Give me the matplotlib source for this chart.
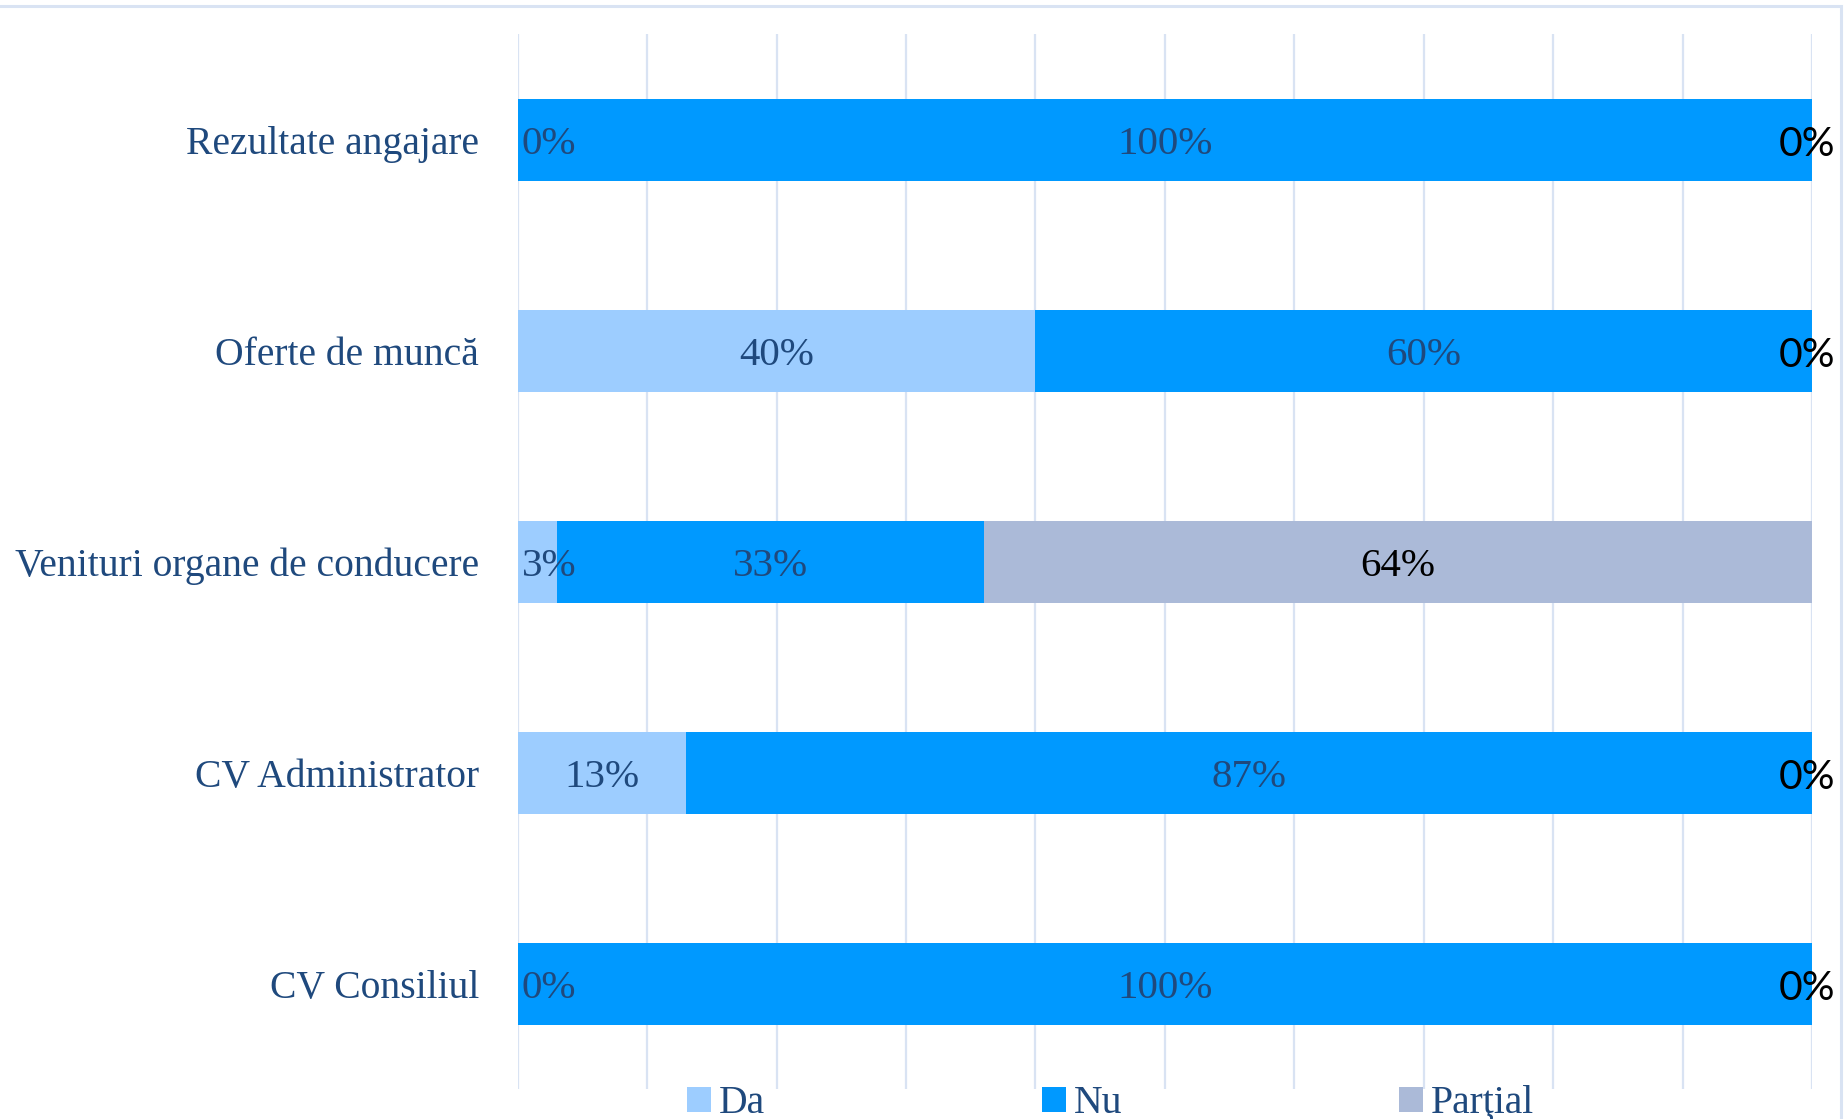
import matplotlib.pyplot as plt
from matplotlib.patches import Rectangle
import numpy as np

# categories, top to bottom
categories = [
    "Rezultate angajare",
    "Oferte de muncă",
    "Venituri organe de conducere",
    "CV Administrator",
    "CV Consiliul",
]
da = [0, 40, 3, 13, 0]
nu = [100, 60, 33, 87, 100]
partial = [0, 0, 64, 0, 0]
series_names = ["Da", "Nu", "Parţial"]

col_da = "#9DCDFF"
col_nu = "#0099FF"
col_partial = "#ABBAD8"
txt_blue = "#1F497D"
grid_col = "#D9E3F3"

serif = "Liberation Serif"
font_size = 28.5
lab_size = 29.5

fig = plt.figure(figsize=(18.45, 11.19), dpi=100)
ax = fig.add_axes([0.2806, 0.0264, 0.7015, 0.9428])

y = np.arange(len(categories))
h = 0.39
da = np.array(da)
nu = np.array(nu)
partial = np.array(partial)

ax.barh(y, da, height=h, color=col_da, label=series_names[0], zorder=2)
ax.barh(y, nu, left=da, height=h, color=col_nu, label=series_names[1], zorder=2)
ax.barh(y, partial, left=da + nu, height=h, color=col_partial,
        label=series_names[2], zorder=2)

# data labels (slightly below centre, like Excel)
dy = 0.022
for i in range(len(categories)):
    yy = y[i] + dy
    # Da
    if da[i] < 5:
        ax.text(0.3, yy, f"{da[i]}%", ha="left", va="center",
                color=txt_blue, fontsize=lab_size, family=serif, zorder=3)
    else:
        ax.text(da[i] / 2, yy, f"{da[i]}%", ha="center", va="center",
                color=txt_blue, fontsize=lab_size, family=serif, zorder=3)
    # Nu
    ax.text(da[i] + nu[i] / 2, yy, f"{nu[i]}%", ha="center", va="center",
            color=txt_blue, fontsize=lab_size, family=serif, zorder=3)
    # Partial
    if partial[i] == 0:
        ax.text(99.6, yy, f"{partial[i]}%", ha="center", va="center",
                color="black", fontsize=lab_size, family="Lato", zorder=3)
    else:
        ax.text(da[i] + nu[i] + partial[i] / 2, yy, f"{partial[i]}%",
                ha="center", va="center", color="black",
                fontsize=lab_size, family=serif, zorder=3)

ax.set_xlim(0, 100)
ax.set_ylim(len(categories) - 0.5, -0.5)
ax.set_xticks(np.arange(0, 101, 10))
ax.set_xticklabels([])
ax.set_yticks(y)
ax.set_yticklabels(categories, fontsize=font_size, family=serif, color=txt_blue)
ax.tick_params(axis="both", length=0)
ax.tick_params(axis="y", pad=28)
ax.grid(axis="x", color=grid_col, linewidth=1.6, zorder=0)
for s in ax.spines.values():
    s.set_visible(False)

fig.legend(
    loc="lower left",
    bbox_to_anchor=(0.364, -0.017, 0.476, 0.05),
    mode="expand",
    ncol=3,
    frameon=False,
    prop={"family": serif, "size": font_size},
    labelcolor=txt_blue,
    handlelength=0.6,
    handleheight=0.6,
    handletextpad=0.2,
    borderaxespad=0,
)

# chart frame
fig.patches.append(Rectangle((-0.01, -0.01), 1.008, 1.005, transform=fig.transFigure,
                             fill=False, edgecolor=grid_col, linewidth=2.2))

plt.savefig("out.png", dpi=100)
plt.close()
